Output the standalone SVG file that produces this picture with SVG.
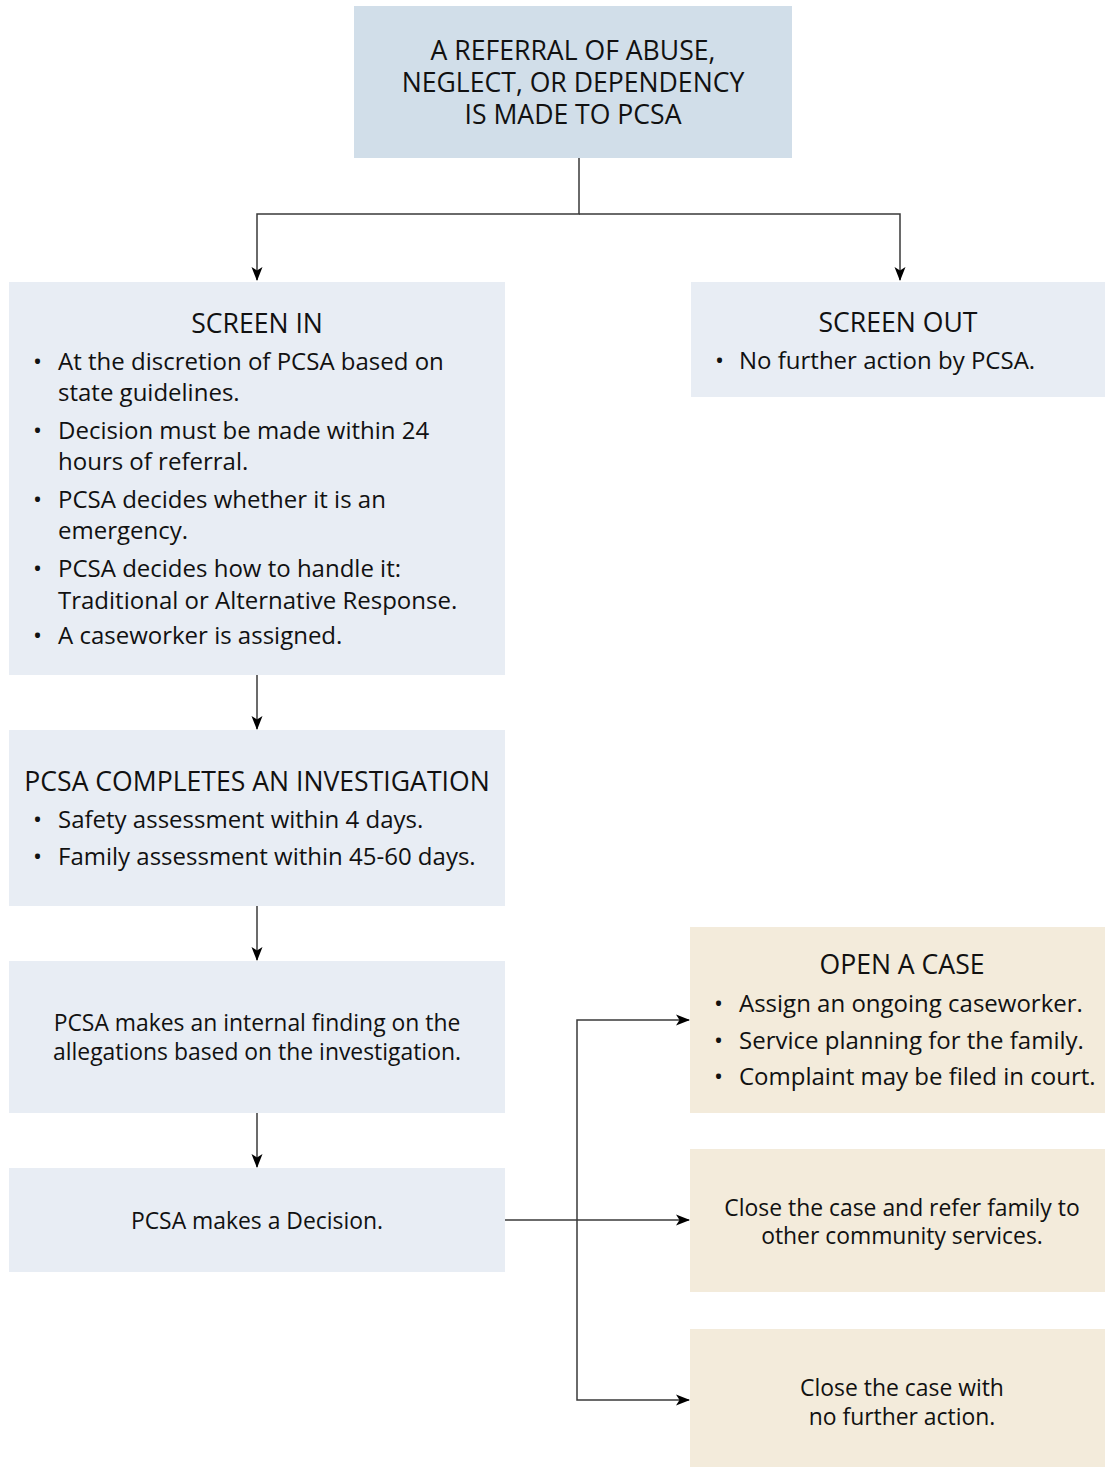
<svg xmlns="http://www.w3.org/2000/svg" width="1105" height="1467" viewBox="0 0 1105 1467">
<style>
text{font-family:"Open Sans","Noto Sans","Liberation Sans",sans-serif;fill:#111}
.h{font-size:26.6px;text-anchor:middle}
.b{font-size:24px}
.c{font-size:22.9px;text-anchor:middle}
.top{fill:#d1dee9}
.blue{fill:#e8edf4}
.tan{fill:#f3ebdb}
.ln{fill:none;stroke:#3a3a3a;stroke-width:1.5}
</style>
<defs>
<marker id="ah" markerUnits="userSpaceOnUse" markerWidth="14" markerHeight="12" refX="13" refY="6" orient="auto">
<path d="M0,0.5 L14,6 L0,11.5 L3.5,6 z" fill="#000"/>
</marker>
</defs>
<rect width="1105" height="1467" fill="#fff"/>
<g id="referral">
<rect class="top" x="354" y="6" width="438" height="152"/>
<text class="h" x="573" y="60">A REFERRAL OF ABUSE,<tspan x="573" dy="32">NEGLECT, OR DEPENDENCY</tspan><tspan x="573" dy="32">IS MADE TO PCSA</tspan></text>
</g>
<g id="screen-in">
<rect class="blue" x="9" y="282" width="496" height="393"/>
<text class="h" x="257" y="333">SCREEN IN</text>
<text class="b" x="33" y="370">•</text><text class="b" x="58" y="370">At the discretion of PCSA based on</text>
<text class="b" x="58" y="401">state guidelines.</text>
<text class="b" x="33" y="439">•</text><text class="b" x="58" y="439">Decision must be made within 24</text>
<text class="b" x="58" y="470">hours of referral.</text>
<text class="b" x="33" y="508">•</text><text class="b" x="58" y="508">PCSA decides whether it is an</text>
<text class="b" x="58" y="539">emergency.</text>
<text class="b" x="33" y="577">•</text><text class="b" x="58" y="577">PCSA decides how to handle it:</text>
<text class="b" x="58" y="609">Traditional or Alternative Response.</text>
<text class="b" x="33" y="644">•</text><text class="b" x="58" y="644">A caseworker is assigned.</text>
</g>
<g id="screen-out">
<rect class="blue" x="691" y="282" width="414" height="115"/>
<text class="h" x="898" y="332">SCREEN OUT</text>
<text class="b" x="715" y="369">•</text><text class="b" x="739" y="369">No further action by PCSA.</text>
</g>
<g id="investigation">
<rect class="blue" x="9" y="730" width="496" height="176"/>
<text class="h" x="257" y="791">PCSA COMPLETES AN INVESTIGATION</text>
<text class="b" x="33" y="828">•</text><text class="b" x="58" y="828">Safety assessment within 4 days.</text>
<text class="b" x="33" y="865">•</text><text class="b" x="58" y="865">Family assessment within 45-60 days.</text>
</g>
<g id="finding">
<rect class="blue" x="9" y="961" width="496" height="152"/>
<text class="c" x="257" y="1031">PCSA makes an internal finding on the</text>
<text class="c" x="257" y="1060">allegations based on the investigation.</text>
</g>
<g id="decision">
<rect class="blue" x="9" y="1168" width="496" height="104"/>
<text class="c" x="257" y="1229">PCSA makes a Decision.</text>
</g>
<g id="open-case">
<rect class="tan" x="690" y="927" width="415" height="186"/>
<text class="h" x="902" y="974">OPEN A CASE</text>
<text class="b" x="714" y="1012">•</text><text class="b" x="739" y="1012">Assign an ongoing caseworker.</text>
<text class="b" x="714" y="1049">•</text><text class="b" x="739" y="1049">Service planning for the family.</text>
<text class="b" x="714" y="1085">•</text><text class="b" x="739" y="1085">Complaint may be filed in court.</text>
</g>
<g id="close-refer">
<rect class="tan" x="690" y="1149" width="415" height="143"/>
<text class="c" x="902" y="1216">Close the case and refer family to</text>
<text class="c" x="902" y="1244">other community services.</text>
</g>
<g id="close-no-action">
<rect class="tan" x="690" y="1329" width="415" height="138"/>
<text class="c" x="902" y="1396">Close the case with</text>
<text class="c" x="902" y="1425">no further action.</text>
</g>
<g id="connectors">
<polyline class="ln" points="579,158 579,214 257,214 257,280" marker-end="url(#ah)"/>
<polyline class="ln" points="579,214 900,214 900,280" marker-end="url(#ah)"/>
<line class="ln" x1="257" y1="675" x2="257" y2="729" marker-end="url(#ah)"/>
<line class="ln" x1="257" y1="906" x2="257" y2="960" marker-end="url(#ah)"/>
<line class="ln" x1="257" y1="1113" x2="257" y2="1167" marker-end="url(#ah)"/>
<line class="ln" x1="505" y1="1220" x2="689" y2="1220" marker-end="url(#ah)"/>
<polyline class="ln" points="577,1220 577,1020 689,1020" marker-end="url(#ah)"/>
<polyline class="ln" points="577,1220 577,1400 689,1400" marker-end="url(#ah)"/>
</g>
</svg>
